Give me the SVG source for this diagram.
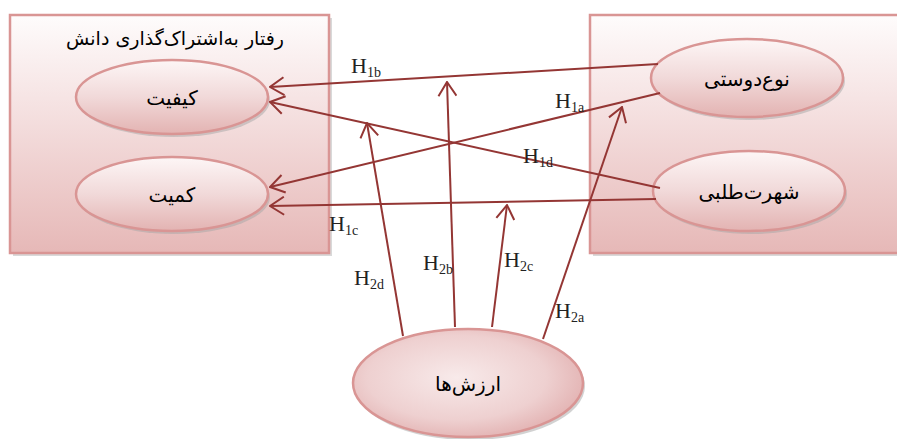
<svg xmlns="http://www.w3.org/2000/svg" width="897" height="439" viewBox="0 0 897 439">
<style>
.box{stroke:#d99594;stroke-width:2.5}
.shadow{fill:#bfbfbf;opacity:0.6}
.ell{stroke:#d99594;stroke-width:2.5}
.eshadow{fill:#a6a6a6;opacity:0.5}
.fa{font-family:"DejaVu Sans","Noto Sans",sans-serif;fill:#000;text-anchor:middle}
.lbl{font-family:"Liberation Serif",serif;font-size:22px;fill:#222}
.sub{font-size:14px}
.con{stroke:#943634;stroke-width:2;fill:none}
</style>
<defs>
<linearGradient id="gBox" x1="0" y1="0" x2="0" y2="1">
<stop offset="0" stop-color="#fefcfc"/>
<stop offset="0.35" stop-color="#f6e4e4"/>
<stop offset="1" stop-color="#e6b8b7"/>
</linearGradient>
<linearGradient id="gEll" x1="0" y1="0" x2="0" y2="1">
<stop offset="0" stop-color="#fdf6f6"/>
<stop offset="0.5" stop-color="#f1d9d9"/>
<stop offset="1" stop-color="#e3b3b2"/>
</linearGradient>
<radialGradient id="gBig" cx="0.45" cy="0.45" r="0.65">
<stop offset="0" stop-color="#f8eaea"/>
<stop offset="0.6" stop-color="#eed0d0"/>
<stop offset="1" stop-color="#dfa8a8"/>
</radialGradient>
<marker id="arr" markerUnits="userSpaceOnUse" viewBox="0 0 16 20" refX="15" refY="10" markerWidth="16" markerHeight="20" orient="auto">
<path d="M1,1 L15,10 L1,19" fill="none" stroke="#943634" stroke-width="2"/>
</marker>
</defs>

<g id="box-left">
<rect class="shadow" x="13" y="18" width="319" height="238"/>
<rect class="box" x="10" y="15" width="319" height="238" fill="url(#gBox)"/>
<text class="fa" x="175" y="45" font-size="19" direction="rtl">رفتار به‌اشتراک‌گذاری دانش</text>
</g>

<g id="box-right">
<rect class="shadow" x="593" y="18" width="310" height="238"/>
<rect class="box" x="590" y="15" width="312" height="238" fill="url(#gBox)"/>
</g>

<g id="node-keyfiyat">
<ellipse class="eshadow" cx="174" cy="100" rx="96" ry="37"/>
<ellipse class="ell" cx="172" cy="97" rx="96" ry="37" fill="url(#gEll)"/>
<text class="fa" x="172" y="105" font-size="20" direction="rtl">کیفیت</text>
</g>

<g id="node-kamiyat">
<ellipse class="eshadow" cx="174" cy="197" rx="96" ry="37"/>
<ellipse class="ell" cx="172" cy="194" rx="96" ry="37" fill="url(#gEll)"/>
<text class="fa" x="172" y="202" font-size="20" direction="rtl">کمیت</text>
</g>

<g id="node-nowdousti">
<ellipse class="eshadow" cx="749" cy="81" rx="96" ry="39"/>
<ellipse class="ell" cx="747" cy="78" rx="96" ry="39" fill="url(#gEll)"/>
<text class="fa" x="747" y="86" font-size="20" direction="rtl">نوع‌دوستی</text>
</g>

<g id="node-shohrattalabi">
<ellipse class="eshadow" cx="751" cy="194" rx="96" ry="40"/>
<ellipse class="ell" cx="749" cy="191" rx="96" ry="40" fill="url(#gEll)"/>
<text class="fa" x="749" y="199" font-size="20" direction="rtl">شهرت‌طلبی</text>
</g>

<g id="node-arzeshha">
<ellipse class="eshadow" cx="470" cy="386" rx="115" ry="54"/>
<ellipse class="ell" cx="468" cy="383" rx="115" ry="54" fill="url(#gBig)"/>
<text class="fa" x="468" y="391" font-size="20" direction="rtl">ارزش‌ها</text>
</g>

<g id="connectors">
<line class="con" x1="658" y1="64" x2="270" y2="87" marker-end="url(#arr)"/>
<line class="con" x1="660" y1="93" x2="270" y2="187" marker-end="url(#arr)"/>
<line class="con" x1="660" y1="188" x2="270" y2="102" marker-end="url(#arr)"/>
<line class="con" x1="656" y1="199" x2="270" y2="206" marker-end="url(#arr)"/>
<line class="con" x1="403" y1="336" x2="367" y2="123" marker-end="url(#arr)"/>
<line class="con" x1="455" y1="327" x2="447" y2="82" marker-end="url(#arr)"/>
<line class="con" x1="492" y1="327" x2="507" y2="205" marker-end="url(#arr)"/>
<line class="con" x1="543" y1="339" x2="622" y2="107" marker-end="url(#arr)"/>
</g>

<g id="labels">
<text class="lbl" x="351" y="73">H<tspan class="sub" dy="4">1b</tspan></text>
<text class="lbl" x="555" y="108">H<tspan class="sub" dy="4">1a</tspan></text>
<text class="lbl" x="523" y="163">H<tspan class="sub" dy="4">1d</tspan></text>
<text class="lbl" x="329" y="231">H<tspan class="sub" dy="4">1c</tspan></text>
<text class="lbl" x="354" y="285">H<tspan class="sub" dy="4">2d</tspan></text>
<text class="lbl" x="423" y="270">H<tspan class="sub" dy="4">2b</tspan></text>
<text class="lbl" x="504" y="267">H<tspan class="sub" dy="4">2c</tspan></text>
<text class="lbl" x="555" y="318">H<tspan class="sub" dy="4">2a</tspan></text>
</g>
</svg>
